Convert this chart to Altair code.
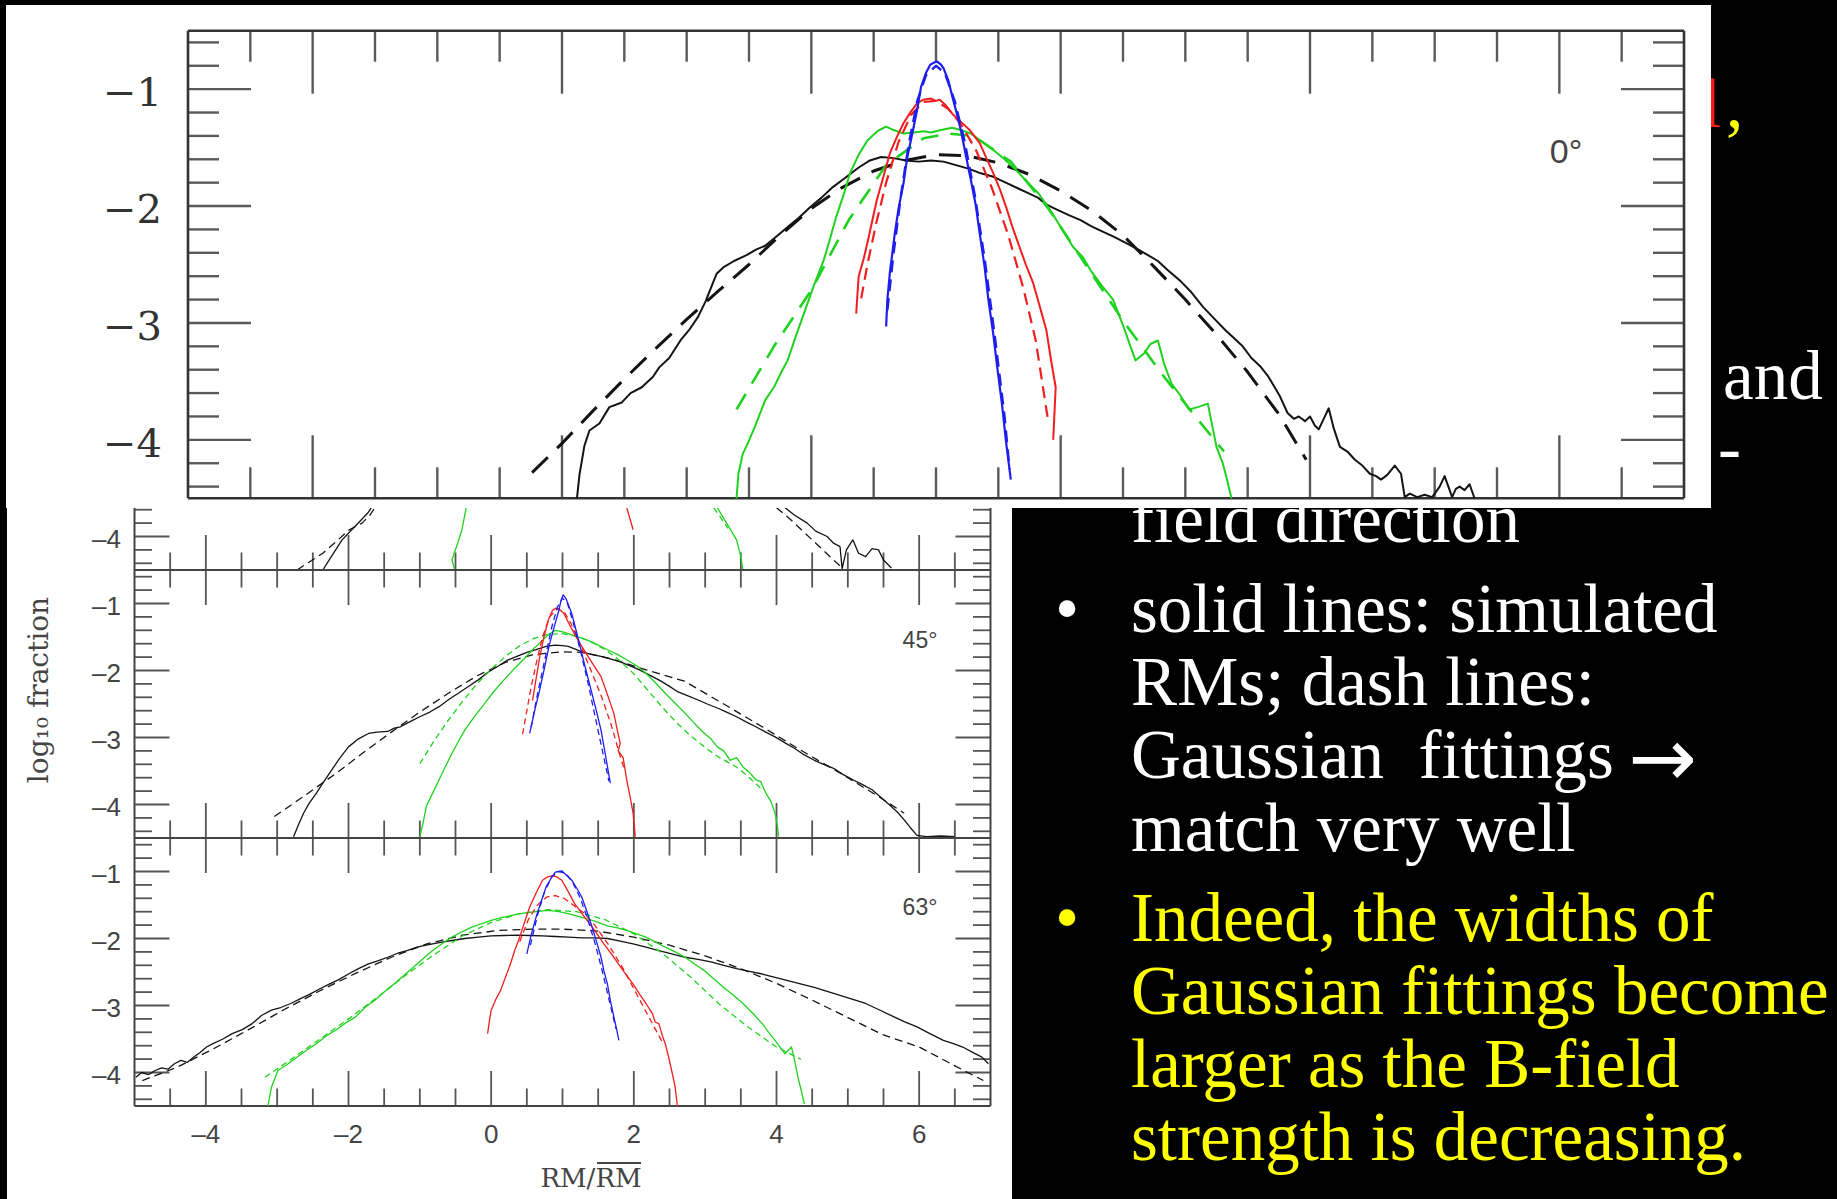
import altair as alt
import pandas as pd

# ------------------------------------------------------------------
# Canvas
# ------------------------------------------------------------------
W, H = 1837, 1199

# ------------------------------------------------------------------
# Axis definitions (shared by every panel)
# ------------------------------------------------------------------
X_DOMAIN = [-5, 7]
Y_DOMAIN = [-4.5, -0.5]
X_MAJOR = [-4, -2, 0, 2, 4, 6]
X_MINOR = [-4.5, -3.5, -3, -2.5, -1.5, -1, -0.5, 0.5, 1, 1.5, 2.5, 3, 3.5, 4.5, 5, 5.5, 6.5]
Y_MAJOR = [-1, -2, -3, -4]
Y_MINOR = [-0.6, -0.8, -1.2, -1.4, -1.6, -1.8, -2.2, -2.4, -2.6, -2.8,
           -3.2, -3.4, -3.6, -3.8, -4.2, -4.4]
X_TICK_LABELS = [-4, -2, 0, 2, 4, 6]
Y_TICK_LABELS = [-1, -2, -3, -4]
Y_TICK_LABELS_STRIP = [-4]
ANGLE_LABELS = ["0°", "45°", "63°"]
X_TITLE = "RM/RM"
Y_TITLE = "log\u2081\u2080 fraction"

# ------------------------------------------------------------------
# Enlarged 0-degree panel: simulated (solid) and Gaussian fit (dashed)
# ------------------------------------------------------------------
BIG_BLACK_SIM = [
    (-1.88, -4.50), (-1.86, -4.30), (-1.82, -4.05), (-1.78, -3.92), (-1.70, -3.86), (-1.62, -3.72),
    (-1.52, -3.68), (-1.45, -3.60), (-1.36, -3.55), (-1.27, -3.46), (-1.22, -3.38), (-1.14, -3.30),
    (-1.05, -3.15), (-0.98, -3.06), (-0.91, -2.95), (-0.85, -2.82), (-0.79, -2.66), (-0.76, -2.58),
    (-0.70, -2.52), (-0.62, -2.47), (-0.52, -2.42), (-0.44, -2.37), (-0.37, -2.34), (-0.28, -2.26),
    (-0.19, -2.18), (-0.10, -2.10), (-0.01, -2.01), (0.08, -1.93), (0.17, -1.84), (0.27, -1.76),
    (0.38, -1.67), (0.47, -1.61), (0.56, -1.58), (0.66, -1.59), (0.76, -1.61), (0.86, -1.62),
    (0.96, -1.61), (1.06, -1.62), (1.16, -1.65), (1.26, -1.68), (1.36, -1.72), (1.46, -1.75),
    (1.56, -1.80), (1.66, -1.85), (1.74, -1.89), (1.82, -1.93), (1.89, -1.99), (1.97, -2.03),
    (2.07, -2.08), (2.16, -2.12), (2.24, -2.17), (2.32, -2.21), (2.42, -2.26), (2.53, -2.32),
    (2.62, -2.37), (2.70, -2.42), (2.78, -2.47), (2.86, -2.55), (2.96, -2.64), (3.05, -2.74),
    (3.14, -2.86), (3.22, -2.95), (3.32, -3.06), (3.40, -3.14), (3.46, -3.20), (3.53, -3.30),
    (3.60, -3.37), (3.66, -3.45), (3.70, -3.52), (3.76, -3.63), (3.82, -3.77), (3.87, -3.82),
    (3.91, -3.80), (3.96, -3.84), (4.00, -3.80), (4.04, -3.88), (4.07, -3.91), (4.11, -3.82),
    (4.15, -3.73), (4.19, -3.90), (4.24, -4.06), (4.30, -4.10), (4.36, -4.17), (4.42, -4.22),
    (4.48, -4.29), (4.53, -4.31), (4.57, -4.34), (4.62, -4.30), (4.68, -4.22), (4.73, -4.29),
    (4.76, -4.49), (4.80, -4.46), (4.86, -4.49), (4.92, -4.47), (4.98, -4.49), (5.04, -4.40),
    (5.08, -4.31), (5.11, -4.40), (5.14, -4.49), (5.17, -4.42), (5.20, -4.40), (5.24, -4.43),
    (5.28, -4.38), (5.32, -4.50),
]
BIG_BLACK_FIT = [
    (-2.24, -4.28), (-2.00, -4.03), (-1.75, -3.75), (-1.50, -3.48), (-1.25, -3.22), (-1.00, -2.97),
    (-0.75, -2.73), (-0.50, -2.50), (-0.25, -2.25), (0.00, -2.02), (0.25, -1.84), (0.50, -1.70),
    (0.75, -1.61), (1.00, -1.56), (1.25, -1.57), (1.50, -1.63), (1.75, -1.73), (2.00, -1.87),
    (2.25, -2.04), (2.50, -2.25), (2.75, -2.52), (3.00, -2.80), (3.25, -3.10), (3.50, -3.42),
    (3.75, -3.78), (3.97, -4.17),
]
BIG_GREEN_SIM = [
    (-0.60, -4.50), (-0.585, -4.29), (-0.55, -4.12), (-0.51, -4.03), (-0.45, -3.88), (-0.37, -3.66),
    (-0.30, -3.55), (-0.24, -3.42), (-0.19, -3.32), (-0.12, -3.10), (-0.05, -2.89), (0.02, -2.68),
    (0.10, -2.46), (0.15, -2.28), (0.20, -2.09), (0.26, -1.90), (0.31, -1.72), (0.38, -1.56),
    (0.45, -1.44), (0.53, -1.36), (0.60, -1.32), (0.66, -1.35), (0.74, -1.38), (0.82, -1.37),
    (0.90, -1.36), (0.96, -1.37), (1.04, -1.35), (1.13, -1.33), (1.20, -1.35), (1.28, -1.38),
    (1.37, -1.45), (1.46, -1.52), (1.55, -1.60), (1.64, -1.69), (1.72, -1.78), (1.82, -1.89),
    (1.92, -2.04), (2.03, -2.23), (2.10, -2.35), (2.18, -2.44), (2.24, -2.55), (2.33, -2.68),
    (2.42, -2.80), (2.50, -3.02), (2.56, -3.20), (2.60, -3.32), (2.67, -3.26), (2.72, -3.18),
    (2.78, -3.15), (2.83, -3.35), (2.89, -3.52), (2.96, -3.62), (3.03, -3.74), (3.10, -3.72),
    (3.18, -3.69), (3.22, -3.90), (3.25, -4.06), (3.30, -4.20), (3.33, -4.32), (3.37, -4.50),
]
BIG_GREEN_FIT = [
    (-0.60, -3.74), (-0.30, -3.20), (0.00, -2.72), (0.30, -2.12), (0.60, -1.65), (0.90, -1.42),
    (1.10, -1.38), (1.30, -1.40), (1.60, -1.62), (1.90, -2.02), (2.20, -2.50), (2.50, -2.98),
    (2.80, -3.42), (3.05, -3.76), (3.31, -4.10),
]
BIG_RED_SIM = [
    (0.36, -2.92), (0.37, -2.75), (0.38, -2.60), (0.42, -2.45), (0.455, -2.29), (0.49, -2.12),
    (0.525, -1.95), (0.58, -1.74), (0.63, -1.55), (0.69, -1.40), (0.74, -1.29), (0.80, -1.19),
    (0.85, -1.12), (0.90, -1.09), (0.955, -1.08), (1.00, -1.10), (1.03, -1.09), (1.08, -1.14),
    (1.13, -1.21), (1.20, -1.28), (1.27, -1.35), (1.35, -1.46), (1.40, -1.58), (1.46, -1.72),
    (1.51, -1.85), (1.56, -2.00), (1.61, -2.17), (1.67, -2.35), (1.72, -2.50), (1.78, -2.66),
    (1.83, -2.85), (1.885, -3.06), (1.92, -3.30), (1.96, -3.55), (1.95, -3.78), (1.94, -4.00),
]
BIG_RED_FIT = [
    (0.40, -2.79), (0.45, -2.50), (0.52, -2.15), (0.60, -1.80), (0.70, -1.45), (0.80, -1.22),
    (0.90, -1.11), (1.00, -1.10), (1.10, -1.17), (1.20, -1.30), (1.32, -1.52), (1.45, -1.85),
    (1.58, -2.25), (1.70, -2.70), (1.80, -3.15), (1.90, -3.84),
]
BIG_BLUE_SIM = [
    (0.60, -3.03), (0.61, -2.80), (0.63, -2.57), (0.65, -2.40), (0.67, -2.23), (0.70, -2.02),
    (0.74, -1.80), (0.77, -1.58), (0.81, -1.38), (0.85, -1.17), (0.88, -0.98), (0.92, -0.86),
    (0.955, -0.79), (0.99, -0.77), (1.01, -0.765), (1.04, -0.79), (1.06, -0.82), (1.10, -0.93),
    (1.13, -1.06), (1.17, -1.22), (1.205, -1.38), (1.24, -1.57), (1.28, -1.78), (1.32, -2.00),
    (1.35, -2.23), (1.39, -2.52), (1.42, -2.80), (1.46, -3.10), (1.49, -3.37), (1.53, -3.70),
    (1.56, -4.00), (1.60, -4.34),
]
BIG_BLUE_FIT = [
    (0.61, -2.89), (0.66, -2.40), (0.72, -1.90), (0.78, -1.48), (0.85, -1.10), (0.92, -0.88),
    (1.00, -0.80), (1.07, -0.86), (1.15, -1.10), (1.23, -1.45), (1.31, -1.90), (1.39, -2.45),
    (1.47, -3.10), (1.55, -3.80), (1.59, -4.25),
]

# ------------------------------------------------------------------
# Original 0-degree panel (only its lowest strip shows)
# ------------------------------------------------------------------
S0_BLACK_SIM_L = [(-2.36, -4.50), (-2.27, -4.35), (-2.09, -4.05), (-1.91, -3.85), (-1.73, -3.65), (-1.68, -3.57)]
S0_BLACK_FIT_L = [(-2.72, -4.50), (-2.55, -4.38), (-2.36, -4.25), (-2.20, -4.10), (-1.99, -3.90),
                  (-1.81, -3.80), (-1.70, -3.68), (-1.63, -3.57)]
S0_BLACK_SIM_R = [(4.12, -3.57), (4.25, -3.68), (4.43, -3.80), (4.55, -3.92), (4.71, -4.00), (4.80, -4.10),
                  (4.89, -4.15), (4.92, -4.48), (4.98, -4.20), (5.07, -4.05), (5.15, -4.25), (5.25, -4.30),
                  (5.34, -4.18), (5.43, -4.20), (5.50, -4.35), (5.61, -4.47)]
S0_BLACK_FIT_R = [(4.00, -3.57), (4.20, -3.75), (4.40, -3.95), (4.60, -4.15), (4.80, -4.35), (4.95, -4.50)]
S0_GREEN_SIM_L = [(-0.51, -4.50), (-0.55, -4.35), (-0.47, -4.10), (-0.41, -3.90), (-0.35, -3.57)]
S0_GREEN_SIM_R = [(3.17, -3.57), (3.30, -3.80), (3.44, -4.05), (3.50, -4.30), (3.53, -4.50)]
S0_GREEN_FIT_R = [(3.12, -3.57), (3.22, -3.72), (3.32, -3.88)]
S0_RED_SIM = [(1.90, -3.57), (1.95, -3.75), (1.99, -3.90)]

# ------------------------------------------------------------------
# 45-degree panel
# ------------------------------------------------------------------
P45_BLACK_SIM = [
    (-2.77, -4.48), (-2.70, -4.30), (-2.63, -4.13), (-2.55, -3.98), (-2.45, -3.83), (-2.36, -3.68),
    (-2.27, -3.54), (-2.13, -3.32), (-2.00, -3.14), (-1.86, -3.02), (-1.72, -2.94), (-1.60, -2.92),
    (-1.45, -2.91), (-1.36, -2.86), (-1.27, -2.84), (-1.13, -2.76), (-1.00, -2.69), (-0.86, -2.62),
    (-0.73, -2.54), (-0.59, -2.43), (-0.46, -2.34), (-0.32, -2.24), (-0.18, -2.14), (-0.05, -2.03),
    (0.09, -1.94), (0.22, -1.85), (0.36, -1.79), (0.50, -1.73), (0.63, -1.69), (0.77, -1.64),
    (0.90, -1.62), (1.00, -1.63), (1.08, -1.64), (1.18, -1.68), (1.27, -1.72), (1.40, -1.76),
    (1.54, -1.79), (1.68, -1.83), (1.81, -1.87), (1.95, -1.93), (2.08, -1.99), (2.22, -2.07),
    (2.35, -2.14), (2.49, -2.23), (2.62, -2.32), (2.76, -2.38), (2.90, -2.44), (3.03, -2.50),
    (3.17, -2.56), (3.30, -2.62), (3.44, -2.69), (3.58, -2.77), (3.71, -2.84), (3.85, -2.92),
    (3.98, -2.99), (4.12, -3.08), (4.25, -3.16), (4.39, -3.26), (4.53, -3.34), (4.66, -3.40),
    (4.80, -3.46), (4.93, -3.55), (5.07, -3.63), (5.20, -3.70), (5.34, -3.78), (5.47, -3.90),
    (5.61, -4.03), (5.70, -4.12), (5.79, -4.23), (5.88, -4.35), (5.97, -4.46), (6.10, -4.48),
    (6.30, -4.47), (6.50, -4.48),
]
P45_BLACK_FIT = [
    (-3.04, -4.18), (-2.63, -3.88), (-2.18, -3.54), (-1.81, -3.24), (-1.40, -2.92), (-1.00, -2.62),
    (-0.60, -2.34), (-0.20, -2.08), (0.20, -1.88), (0.60, -1.76), (1.00, -1.72), (1.30, -1.73),
    (1.70, -1.83), (2.17, -1.99), (2.71, -2.16), (3.26, -2.50), (3.80, -2.84), (4.34, -3.19),
    (4.89, -3.53), (5.43, -3.88), (5.79, -4.13),
]
P45_GREEN_SIM = [
    (-1.00, -4.48), (-0.95, -4.25), (-0.91, -4.03), (-0.82, -3.83), (-0.73, -3.63), (-0.64, -3.43),
    (-0.55, -3.24), (-0.46, -3.06), (-0.37, -2.89), (-0.23, -2.68), (-0.09, -2.49), (0.04, -2.31),
    (0.18, -2.14), (0.31, -1.99), (0.45, -1.84), (0.58, -1.69), (0.72, -1.55), (0.81, -1.46),
    (0.90, -1.40), (0.99, -1.42), (1.08, -1.45), (1.22, -1.50), (1.36, -1.55), (1.50, -1.62),
    (1.63, -1.69), (1.77, -1.76), (1.90, -1.84), (2.04, -1.93), (2.17, -2.04), (2.30, -2.18),
    (2.44, -2.34), (2.58, -2.49), (2.72, -2.64), (2.85, -2.79), (2.99, -2.94), (3.08, -3.02),
    (3.17, -3.14), (3.26, -3.20), (3.35, -3.34), (3.44, -3.30), (3.53, -3.44), (3.62, -3.52),
    (3.71, -3.63), (3.78, -3.66), (3.85, -3.83), (3.92, -3.95), (3.98, -4.13), (4.01, -4.30),
    (4.03, -4.48),
]
P45_GREEN_FIT = [
    (-1.00, -3.39), (-0.80, -3.05), (-0.60, -2.74), (-0.40, -2.46), (-0.20, -2.20), (0.00, -1.98),
    (0.20, -1.79), (0.40, -1.63), (0.60, -1.52), (0.80, -1.46), (0.99, -1.45), (1.20, -1.49),
    (1.40, -1.57), (1.60, -1.69), (1.80, -1.85), (2.00, -2.05), (2.20, -2.30), (2.40, -2.55),
    (2.60, -2.78), (2.80, -2.98), (3.00, -3.15), (3.20, -3.30), (3.44, -3.44), (3.62, -3.60),
    (3.80, -3.78),
]
P45_RED_SIM = [
    (0.58, -2.45), (0.63, -2.12), (0.68, -1.80), (0.74, -1.50), (0.80, -1.25), (0.86, -1.10),
    (0.90, -1.07), (0.95, -1.08), (1.02, -1.15), (1.10, -1.32), (1.18, -1.48), (1.27, -1.64),
    (1.40, -1.86), (1.54, -2.09), (1.63, -2.36), (1.72, -2.64), (1.77, -2.90), (1.81, -3.09),
    (1.78, -3.20), (1.85, -3.30), (1.90, -3.63), (1.95, -3.90), (1.99, -4.13), (2.02, -4.48),
]
P45_RED_FIT = [
    (0.44, -2.95), (0.50, -2.60), (0.56, -2.25), (0.63, -1.90), (0.72, -1.50), (0.82, -1.20),
    (0.92, -1.08), (1.02, -1.12), (1.12, -1.30), (1.25, -1.62), (1.40, -2.00), (1.55, -2.40),
    (1.68, -2.80), (1.80, -3.25), (1.86, -3.45),
]
P45_BLUE_SIM = [
    (0.54, -2.94), (0.61, -2.60), (0.68, -2.29), (0.75, -1.95), (0.81, -1.64), (0.88, -1.36),
    (0.95, -1.10), (0.98, -0.95), (1.01, -0.87), (1.05, -0.93), (1.09, -1.04), (1.13, -1.15),
    (1.20, -1.44), (1.27, -1.74), (1.33, -2.00), (1.40, -2.29), (1.47, -2.58), (1.54, -2.89),
    (1.60, -3.25), (1.67, -3.68),
]
P45_BLUE_FIT = [
    (0.56, -2.85), (0.65, -2.35), (0.75, -1.85), (0.85, -1.35), (0.93, -1.05), (1.00, -0.92),
    (1.07, -1.00), (1.15, -1.28), (1.25, -1.70), (1.35, -2.15), (1.45, -2.65), (1.55, -3.15),
    (1.65, -3.65),
]

# ------------------------------------------------------------------
# 63-degree panel
# ------------------------------------------------------------------
P63_BLACK_SIM = [
    (-4.98, -4.07), (-4.90, -4.00), (-4.80, -4.03), (-4.71, -3.97), (-4.62, -3.93), (-4.53, -3.95),
    (-4.44, -3.87), (-4.35, -3.82), (-4.26, -3.85), (-4.17, -3.77), (-4.08, -3.70), (-3.99, -3.62),
    (-3.90, -3.57), (-3.76, -3.50), (-3.63, -3.42), (-3.49, -3.36), (-3.35, -3.27), (-3.22, -3.15),
    (-3.08, -3.07), (-2.95, -3.03), (-2.81, -2.97), (-2.68, -2.90), (-2.54, -2.83), (-2.40, -2.75),
    (-2.27, -2.68), (-2.13, -2.61), (-2.00, -2.53), (-1.86, -2.45), (-1.72, -2.38), (-1.58, -2.33),
    (-1.45, -2.28), (-1.31, -2.22), (-1.18, -2.18), (-1.04, -2.13), (-0.91, -2.10), (-0.73, -2.06),
    (-0.55, -2.03), (-0.37, -2.00), (-0.18, -1.98), (0.00, -1.96), (0.18, -1.955), (0.36, -1.95),
    (0.54, -1.955), (0.72, -1.96), (0.90, -1.97), (1.08, -1.98), (1.27, -1.99), (1.45, -1.99),
    (1.63, -2.00), (1.81, -2.04), (1.99, -2.08), (2.17, -2.13), (2.35, -2.18), (2.53, -2.23),
    (2.72, -2.28), (2.90, -2.31), (3.08, -2.35), (3.26, -2.40), (3.44, -2.45), (3.62, -2.49),
    (3.80, -2.53), (3.98, -2.58), (4.16, -2.63), (4.35, -2.68), (4.53, -2.73), (4.71, -2.79),
    (4.89, -2.85), (5.07, -2.91), (5.25, -2.97), (5.43, -3.06), (5.61, -3.15), (5.79, -3.24),
    (5.97, -3.32), (6.15, -3.42), (6.34, -3.52), (6.48, -3.57), (6.61, -3.62), (6.75, -3.70),
    (6.88, -3.77), (6.97, -3.87),
]
P63_BLACK_FIT = [
    (-4.89, -4.12), (-4.40, -3.92), (-3.90, -3.65), (-3.40, -3.36), (-2.90, -3.06), (-2.40, -2.78),
    (-1.90, -2.52), (-1.40, -2.28), (-0.90, -2.08), (-0.40, -1.95), (0.10, -1.88), (0.60, -1.86),
    (1.00, -1.86), (1.50, -1.89), (2.00, -1.98), (2.50, -2.10), (3.00, -2.26), (3.50, -2.45),
    (4.00, -2.67), (4.50, -2.92), (5.00, -3.18), (5.50, -3.44), (6.00, -3.62), (6.50, -3.90),
    (6.90, -4.12),
]
P63_GREEN_SIM = [
    (-3.13, -4.50), (-3.08, -4.22), (-2.99, -3.97), (-2.86, -3.88), (-2.72, -3.77), (-2.58, -3.66),
    (-2.45, -3.57), (-2.31, -3.45), (-2.18, -3.37), (-2.04, -3.26), (-1.90, -3.17), (-1.77, -3.03),
    (-1.63, -2.92), (-1.50, -2.80), (-1.36, -2.68), (-1.22, -2.55), (-1.09, -2.43), (-0.95, -2.30),
    (-0.82, -2.18), (-0.68, -2.07), (-0.55, -1.98), (-0.41, -1.90), (-0.27, -1.83), (-0.14, -1.78),
    (0.00, -1.73), (0.14, -1.69), (0.27, -1.66), (0.41, -1.63), (0.54, -1.61), (0.68, -1.59),
    (0.81, -1.58), (0.95, -1.60), (1.08, -1.63), (1.22, -1.67), (1.36, -1.71), (1.50, -1.76),
    (1.63, -1.81), (1.77, -1.84), (1.90, -1.88), (2.04, -1.93), (2.17, -1.98), (2.30, -2.05),
    (2.44, -2.13), (2.58, -2.20), (2.72, -2.28), (2.85, -2.38), (2.99, -2.48), (3.12, -2.60),
    (3.26, -2.73), (3.40, -2.85), (3.53, -2.97), (3.67, -3.12), (3.80, -3.27), (3.89, -3.40),
    (3.98, -3.52), (4.05, -3.62), (4.12, -3.72), (4.21, -3.62), (4.26, -3.85), (4.30, -4.07),
    (4.35, -4.28), (4.39, -4.47),
]
P63_GREEN_FIT = [
    (-3.17, -4.07), (-2.80, -3.80), (-2.40, -3.50), (-2.00, -3.20), (-1.60, -2.88), (-1.20, -2.55),
    (-0.80, -2.24), (-0.40, -1.96), (0.00, -1.76), (0.40, -1.63), (0.80, -1.57), (1.20, -1.60),
    (1.60, -1.72), (2.00, -1.93), (2.40, -2.22), (2.80, -2.58), (3.20, -2.98), (3.60, -3.32),
    (4.00, -3.62), (4.34, -3.80),
]
P63_RED_SIM = [
    (-0.05, -3.42), (-0.02, -3.20), (0.00, -3.07), (0.06, -2.92), (0.13, -2.78), (0.20, -2.58),
    (0.27, -2.38), (0.33, -2.18), (0.40, -1.98), (0.47, -1.75), (0.54, -1.53), (0.63, -1.32),
    (0.72, -1.13), (0.79, -1.08), (0.86, -1.06), (0.92, -1.08), (0.99, -1.13), (1.08, -1.30),
    (1.17, -1.48), (1.31, -1.68), (1.45, -1.88), (1.58, -2.08), (1.72, -2.28), (1.85, -2.48),
    (1.99, -2.68), (2.08, -2.83), (2.17, -2.97), (2.26, -3.12), (2.30, -3.25), (2.35, -3.27),
    (2.40, -3.45), (2.44, -3.57), (2.49, -3.78), (2.53, -3.97), (2.58, -4.22), (2.61, -4.50),
]
P63_RED_FIT = [
    (0.40, -2.05), (0.52, -1.72), (0.65, -1.50), (0.78, -1.38), (0.90, -1.36), (1.02, -1.40),
    (1.15, -1.50), (1.30, -1.62), (1.45, -1.80), (1.65, -2.10), (1.85, -2.45), (2.05, -2.85),
    (2.25, -3.25), (2.40, -3.55),
]
P63_BLUE_SIM = [
    (0.50, -2.23), (0.56, -1.95), (0.63, -1.68), (0.70, -1.45), (0.77, -1.23), (0.84, -1.10),
    (0.90, -1.01), (0.95, -1.00), (0.99, -0.99), (1.06, -1.06), (1.13, -1.13), (1.20, -1.25),
    (1.27, -1.38), (1.33, -1.56), (1.40, -1.78), (1.47, -2.02), (1.54, -2.28), (1.58, -2.48),
    (1.63, -2.68), (1.67, -2.92), (1.72, -3.17), (1.76, -3.36), (1.79, -3.52),
]
P63_BLUE_FIT = [
    (0.55, -2.10), (0.65, -1.65), (0.75, -1.30), (0.85, -1.08), (0.95, -1.00), (1.05, -1.03),
    (1.15, -1.18), (1.25, -1.40), (1.35, -1.70), (1.45, -2.05), (1.55, -2.45), (1.65, -2.90),
    (1.75, -3.35),
]

# ------------------------------------------------------------------
# Slide text
# ------------------------------------------------------------------
WHITE_BULLET = ["solid lines: simulated", "RMs; dash lines:", "Gaussian\u00a0\u00a0fittings", "match very well"]
ARROW = "\u2192"
YELLOW_BULLET = ["Indeed, the widths of", "Gaussian fittings become", "larger as the B-field",
                 "strength is decreasing."]
CARRY_OVER = "field direction"

# ------------------------------------------------------------------
# Styling / layout
# ------------------------------------------------------------------
COLORS = {"black": "#141414", "green": "#1fd21f", "red": "#f01e1e", "blue": "#1e1eef"}
SERIF = "Liberation Serif"
LINE_STEP = 73
TEXT_SIZE = 69

BIG_X_RANGE = [188, 1684]
BIG_Y_RANGE = [498.3, 30.7]
SMALL_X_RANGE = [134.5, 990.5]
S0_Y_RANGE = [570, 302]
S45_Y_RANGE = [838, 570]
S63_Y_RANGE = [1106, 838]


def scales(xr, yr):
    xs = alt.Scale(domain=X_DOMAIN, range=xr, nice=False, zero=False)
    ys = alt.Scale(domain=Y_DOMAIN, range=yr, nice=False, zero=False)
    return xs, ys


def frame_layers(xr, yr, major_len, minor_len, tick_color, tick_w, frame_color, frame_w):
    xs, ys = scales(xr, yr)
    kx = (xr[1] - xr[0]) / (X_DOMAIN[1] - X_DOMAIN[0])
    ky = (yr[0] - yr[1]) / (Y_DOMAIN[1] - Y_DOMAIN[0])
    x0, x1 = X_DOMAIN
    y0, y1 = Y_DOMAIN
    rows = []
    for t, L in [(t, major_len) for t in X_MAJOR] + [(t, minor_len) for t in X_MINOR]:
        d = L / ky
        rows.append((t, t, y0, y0 + d))
        rows.append((t, t, y1, y1 - d))
    for t, L in [(t, major_len) for t in Y_MAJOR] + [(t, minor_len) for t in Y_MINOR]:
        d = L / kx
        rows.append((x0, x0 + d, t, t))
        rows.append((x1, x1 - d, t, t))
    ticks = pd.DataFrame(rows, columns=["x", "x2", "y", "y2"])
    edges = pd.DataFrame([(x0, x1, y0, y0), (x0, x1, y1, y1), (x0, x0, y0, y1), (x1, x1, y0, y1)],
                         columns=["x", "x2", "y", "y2"])

    def enc(c):
        return c.encode(x=alt.X("x:Q", scale=xs, axis=None), x2="x2:Q",
                        y=alt.Y("y:Q", scale=ys, axis=None), y2="y2:Q")

    return [enc(alt.Chart(ticks).mark_rule(color=tick_color, strokeWidth=tick_w)),
            enc(alt.Chart(edges).mark_rule(color=frame_color, strokeWidth=frame_w))]


def curve(points, color, width, xr, yr, dash=None):
    xs, ys = scales(xr, yr)
    df = pd.DataFrame(points, columns=["x", "y"])
    df["i"] = range(len(df))
    kw = dict(color=COLORS[color], strokeWidth=width, strokeJoin="round")
    if dash:
        kw["strokeDash"] = dash
    return alt.Chart(df).mark_line(**kw).encode(
        x=alt.X("x:Q", scale=xs, axis=None),
        y=alt.Y("y:Q", scale=ys, axis=None),
        order="i:Q",
    )


def y_labels(values, xr, yr, xpos, fmt, font, size, color, dy):
    xs, ys = scales(xr, yr)
    df = pd.DataFrame({"v": values, "t": [fmt(v) for v in values]})
    return alt.Chart(df).mark_text(align="right", baseline="middle", font=font, fontSize=size,
                                   color=color, dy=dy).encode(
        x=alt.value(xpos), y=alt.Y("v:Q", scale=ys, axis=None), text="t:N")


def note(text, x, y, size, color, font, align="left", baseline="alphabetic", angle=0, weight="normal"):
    kw = dict(align=align, baseline=baseline, font=font, fontSize=size, color=color, fontWeight=weight)
    if angle:
        kw["angle"] = angle
    return alt.Chart(pd.DataFrame({"t": [text]})).mark_text(**kw).encode(
        x=alt.value(x), y=alt.value(y), text="t:N")


def panel(curves_spec, xr, yr, lw, dash_black, dash_other):
    layers = frame_layers(xr, yr, 35, 17.5, "#555555", 1.8, "#444444", 2.0)
    for pts, color, fit in curves_spec:
        dash = (dash_black if color == "black" else dash_other) if fit else None
        layers.append(curve(pts, color, lw, xr, yr, dash))
    return alt.layer(*layers)


# ------------------------------------------------------------------
# Slide text behind the figures
# ------------------------------------------------------------------
text_layers = [
    note("l", 1702, 127, TEXT_SIZE, "#ff1a1a", SERIF),
    note(",", 1726, 127, TEXT_SIZE, "#ffff00", SERIF),
    note("and", 1723, 399, TEXT_SIZE, "#ffffff", SERIF),
    note("-", 1718, 471, TEXT_SIZE, "#ffffff", SERIF),
    note(CARRY_OVER, 1131, 542, TEXT_SIZE, "#ffffff", SERIF),
    note("\u2022", 1055, 632, TEXT_SIZE, "#ffffff", SERIF),
    note("\u2022", 1055, 941, TEXT_SIZE, "#ffff00", SERIF),
    note(ARROW, 1628, 786, 82, "#ffffff", "DejaVu Sans"),
]
for i, line in enumerate(WHITE_BULLET):
    text_layers.append(note(line, 1131, 632 + i * LINE_STEP, TEXT_SIZE, "#ffffff", SERIF))
for i, line in enumerate(YELLOW_BULLET):
    text_layers.append(note(line, 1131, 941 + i * LINE_STEP, TEXT_SIZE, "#ffff00", SERIF))

# ------------------------------------------------------------------
# Original three-panel figure
# ------------------------------------------------------------------
small_bg = alt.Chart(pd.DataFrame({"a": [0]})).mark_rect(color="white").encode(
    x=alt.value(7), x2=alt.value(1012), y=alt.value(508), y2=alt.value(H))

p0 = panel([
    (S0_BLACK_SIM_L, "black", False), (S0_BLACK_FIT_L, "black", True),
    (S0_BLACK_SIM_R, "black", False), (S0_BLACK_FIT_R, "black", True),
    (S0_GREEN_SIM_L, "green", False), (S0_GREEN_SIM_R, "green", False),
    (S0_GREEN_FIT_R, "green", True), (S0_RED_SIM, "red", False),
], SMALL_X_RANGE, S0_Y_RANGE, 1.3, [8, 5], [6, 4])

p45 = panel([
    (P45_BLACK_SIM, "black", False), (P45_BLACK_FIT, "black", True),
    (P45_GREEN_SIM, "green", False), (P45_GREEN_FIT, "green", True),
    (P45_RED_SIM, "red", False), (P45_RED_FIT, "red", True),
    (P45_BLUE_SIM, "blue", False), (P45_BLUE_FIT, "blue", True),
], SMALL_X_RANGE, S45_Y_RANGE, 1.3, [8, 5], [6, 4])

p63 = panel([
    (P63_BLACK_SIM, "black", False), (P63_BLACK_FIT, "black", True),
    (P63_GREEN_SIM, "green", False), (P63_GREEN_FIT, "green", True),
    (P63_RED_SIM, "red", False), (P63_RED_FIT, "red", True),
    (P63_BLUE_SIM, "blue", False), (P63_BLUE_FIT, "blue", True),
], SMALL_X_RANGE, S63_Y_RANGE, 1.3, [8, 5], [6, 4])

small_label_fmt = lambda v: "\u2013" + str(abs(v))
LABEL_FONT = "Liberation Sans"
small_texts = [
    y_labels(Y_TICK_LABELS_STRIP, SMALL_X_RANGE, S0_Y_RANGE, 121, small_label_fmt, LABEL_FONT, 26, "#444444", 3),
    y_labels(Y_TICK_LABELS, SMALL_X_RANGE, S45_Y_RANGE, 121, small_label_fmt, LABEL_FONT, 26, "#444444", 3),
    y_labels(Y_TICK_LABELS, SMALL_X_RANGE, S63_Y_RANGE, 121, small_label_fmt, LABEL_FONT, 26, "#444444", 3),
    note(ANGLE_LABELS[1], 920, 641, 23, "#444444", LABEL_FONT, align="center", baseline="middle"),
    note(ANGLE_LABELS[2], 920, 908, 23, "#444444", LABEL_FONT, align="center", baseline="middle"),
    note(Y_TITLE, 40, 690, 28, "#444444", "DejaVu Serif", align="center", baseline="middle", angle=270),
    note(X_TITLE, 591, 1187, 26, "#444444", "DejaVu Serif", align="center"),
    # bar over the denominator of the axis title
    alt.Chart(pd.DataFrame({"a": [0]})).mark_rule(color="#444444", strokeWidth=2).encode(
        x=alt.value(597), x2=alt.value(641), y=alt.value(1163)),
]
xs63, _ = scales(SMALL_X_RANGE, S63_Y_RANGE)
x_lab_df = pd.DataFrame({"v": X_TICK_LABELS,
                         "t": [("\u2013" + str(abs(v))) if v < 0 else str(v) for v in X_TICK_LABELS]})
small_texts.append(
    alt.Chart(x_lab_df).mark_text(align="center", baseline="middle", font=LABEL_FONT,
                                  fontSize=26, color="#444444").encode(
        x=alt.X("v:Q", scale=xs63, axis=None), y=alt.value(1135), text="t:N"))

# ------------------------------------------------------------------
# Enlarged 0-degree panel on top
# ------------------------------------------------------------------
big_bg = alt.Chart(pd.DataFrame({"a": [0]})).mark_rect(color="white").encode(
    x=alt.value(6), x2=alt.value(1711), y=alt.value(5), y2=alt.value(508))

big_layers = frame_layers(BIG_X_RANGE, BIG_Y_RANGE, 63, 31, "#5a5a5a", 2.4, "#333333", 2.6)
big_layers += [
    curve(BIG_BLACK_SIM, "black", 2.0, BIG_X_RANGE, BIG_Y_RANGE),
    curve(BIG_BLACK_FIT, "black", 3.0, BIG_X_RANGE, BIG_Y_RANGE, [22, 13]),
    curve(BIG_GREEN_SIM, "green", 2.0, BIG_X_RANGE, BIG_Y_RANGE),
    curve(BIG_GREEN_FIT, "green", 2.6, BIG_X_RANGE, BIG_Y_RANGE, [18, 12]),
    curve(BIG_RED_SIM, "red", 2.0, BIG_X_RANGE, BIG_Y_RANGE),
    curve(BIG_RED_FIT, "red", 2.2, BIG_X_RANGE, BIG_Y_RANGE, [12, 7]),
    curve(BIG_BLUE_SIM, "blue", 2.2, BIG_X_RANGE, BIG_Y_RANGE),
    curve(BIG_BLUE_FIT, "blue", 2.4, BIG_X_RANGE, BIG_Y_RANGE, [12, 7]),
    y_labels(Y_TICK_LABELS, BIG_X_RANGE, BIG_Y_RANGE, 162, lambda v: "\u2212" + str(abs(v)),
             "DejaVu Serif", 40, "#333333", 5),
    note(ANGLE_LABELS[0], 1566, 153, 34, "#444444", LABEL_FONT, align="center", baseline="middle"),
]
big_panel = alt.layer(*big_layers)

chart = alt.layer(
    *text_layers, small_bg, p0, p45, p63, *small_texts, big_bg, big_panel
).resolve_scale(
    x="independent", y="independent"
).properties(
    width=W, height=H, padding=0, background="black",
    autosize=alt.AutoSizeParams(type="none"),
).configure_view(strokeWidth=0)

chart.save("out.html", embed_options={"renderer": "svg", "actions": False})
